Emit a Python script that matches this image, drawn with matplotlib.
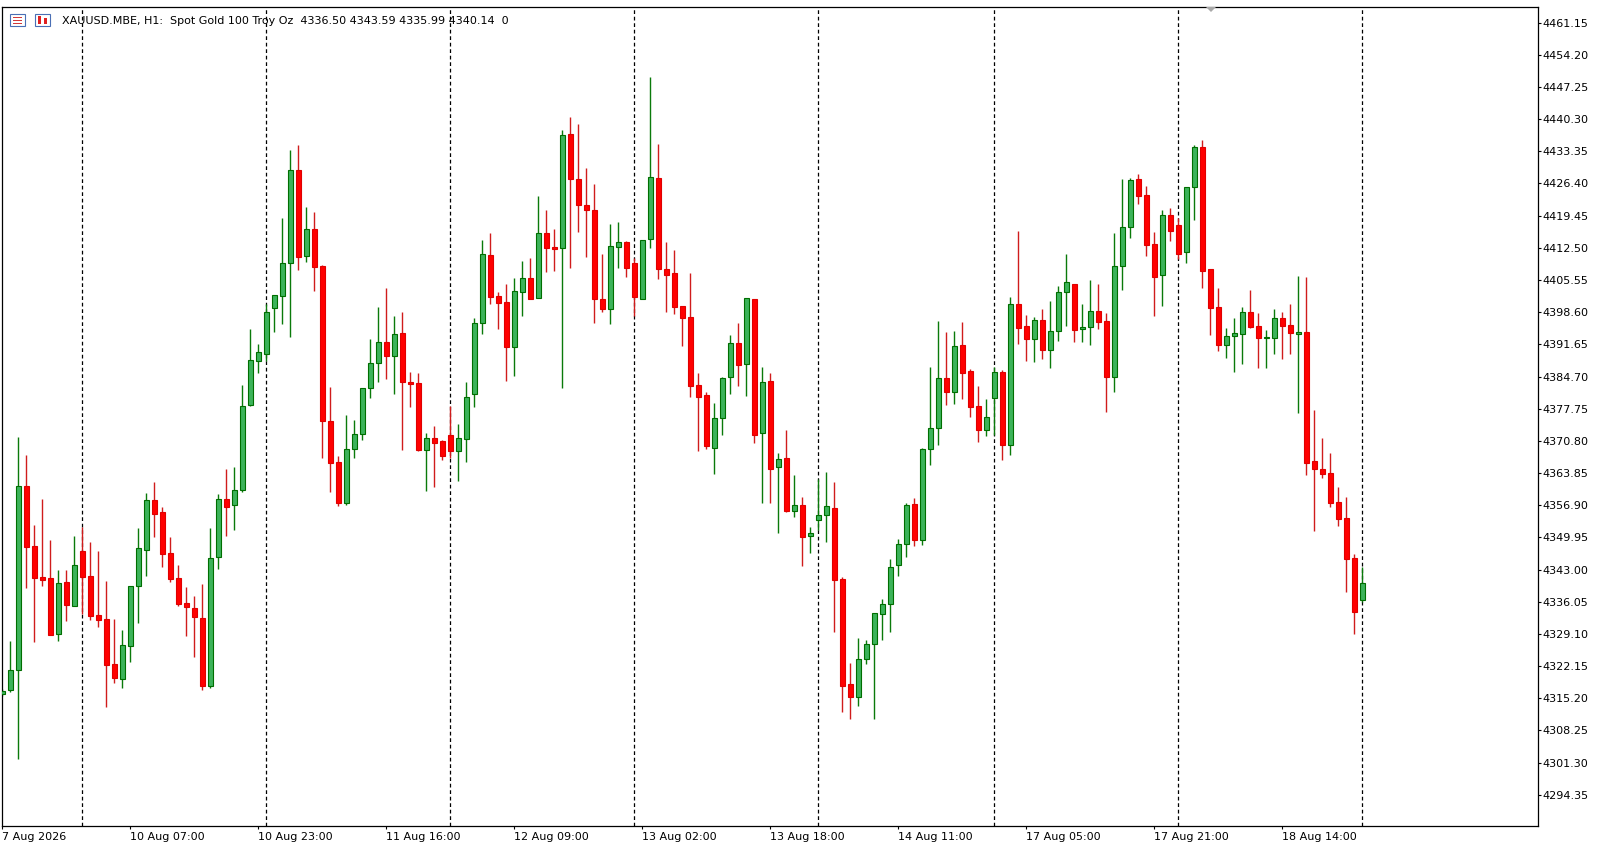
import matplotlib
matplotlib.use("Agg")
import matplotlib.pyplot as plt
from matplotlib.patches import Rectangle, Polygon

# XAUUSD H1 bars, 7 Aug 14:00 .. 18 Aug (one value per bar)
opens = [
    4316.08, 4316.94, 4321.26, 4361.00, 4348.00, 4341.41, 4341.13, 4329.03, 4340.26, 4335.21,
    4347.03, 4341.63, 4333.20, 4332.34, 4322.55, 4319.44, 4326.57, 4339.38, 4347.16, 4357.95,
    4355.34, 4346.55, 4341.15, 4335.75, 4334.67, 4332.51, 4317.78, 4345.62, 4358.19, 4356.87,
    4360.11, 4378.47, 4388.00, 4389.51, 4399.44, 4402.04, 4409.16, 4429.25, 4410.67, 4416.51,
    4408.51, 4375.04, 4366.18, 4357.39, 4368.99, 4372.23, 4382.16, 4387.56, 4392.10, 4389.07,
    4394.04, 4383.52, 4383.31, 4368.90, 4371.37, 4370.72, 4372.01, 4368.69, 4371.15, 4380.87,
    4396.20, 4410.89, 4402.10, 4400.74, 4391.02, 4403.03, 4405.92, 4401.60, 4415.64, 4412.68,
    4412.40, 4437.02, 4427.30, 4421.75, 4420.61, 4401.39, 4399.23, 4412.75, 4413.70, 4409.16,
    4401.39, 4414.35, 4427.52, 4407.87, 4407.00, 4399.88, 4397.50, 4382.81, 4380.65, 4369.34,
    4375.68, 4384.54, 4391.88, 4387.48, 4401.39, 4372.45, 4383.68, 4365.10, 4367.05, 4355.73,
    4356.90, 4350.20, 4353.65, 4354.74, 4356.25, 4340.91, 4318.23, 4315.56, 4323.63, 4326.88,
    4333.35, 4335.51, 4343.94, 4348.47, 4357.11, 4349.34, 4368.99, 4373.53, 4384.32, 4381.30,
    4391.45, 4385.84, 4378.28, 4373.22, 4380.13, 4385.62, 4369.98, 4400.31, 4395.56, 4392.88,
    4396.85, 4390.50, 4394.48, 4402.90, 4404.63, 4394.91, 4395.34, 4398.79, 4396.64, 4384.67,
    4408.51, 4416.94, 4427.37, 4423.85, 4413.33, 4406.57, 4419.53, 4417.37, 4411.54, 4425.71,
    4434.22, 4407.87, 4399.66, 4391.45, 4393.40, 4393.96, 4398.58, 4395.62, 4392.95, 4392.96,
    4397.28, 4395.77, 4393.83, 4394.26, 4366.40, 4364.67, 4363.81, 4357.61, 4354.15, 4345.45,
    4336.50,
]
highs = [
    4317.22, 4327.59, 4371.58, 4367.76, 4352.57, 4358.26, 4349.40, 4342.92, 4342.92, 4350.26,
    4352.21, 4348.97, 4347.03, 4340.55, 4332.34, 4329.96, 4339.50, 4352.01, 4359.51, 4361.82,
    4356.51, 4350.03, 4344.00, 4339.23, 4337.28, 4339.92, 4352.01, 4359.36, 4364.76, 4365.15,
    4382.88, 4394.99, 4391.73, 4400.31, 4402.25, 4418.95, 4433.63, 4434.71, 4421.32, 4420.24,
    4408.80, 4382.45, 4367.54, 4376.40, 4375.32, 4382.20, 4392.81, 4399.72, 4403.83, 4397.78,
    4398.64, 4385.69, 4385.47, 4372.45, 4374.02, 4370.93, 4378.34, 4374.45, 4383.52, 4397.28,
    4414.19, 4415.71, 4402.96, 4404.69, 4405.99, 4409.66, 4410.31, 4423.70, 4420.67, 4416.57,
    4437.95, 4440.76, 4439.25, 4429.75, 4426.29, 4411.17, 4417.65, 4418.08, 4413.98, 4410.24,
    4414.13, 4449.40, 4434.93, 4413.76, 4412.03, 4399.88, 4407.07, 4385.47, 4381.30, 4378.99,
    4384.61, 4393.68, 4396.27, 4401.60, 4401.39, 4386.77, 4385.40, 4368.13, 4373.16, 4363.44,
    4358.69, 4352.14, 4362.51, 4364.09, 4361.93, 4341.41, 4322.84, 4328.23, 4327.80, 4333.57,
    4336.66, 4345.23, 4349.62, 4357.39, 4358.41, 4369.21, 4386.70, 4396.70, 4394.32, 4394.54,
    4396.48, 4386.27, 4382.66, 4379.85, 4386.83, 4386.12, 4401.88, 4416.14, 4398.00, 4397.56,
    4399.29, 4401.02, 4404.19, 4411.17, 4404.63, 4400.37, 4405.55, 4404.69, 4398.36, 4415.71,
    4427.37, 4427.59, 4428.45, 4425.86, 4415.92, 4420.67, 4421.11, 4418.95, 4425.58, 4434.71,
    4435.79, 4407.87, 4403.83, 4395.19, 4397.35, 4399.72, 4403.40, 4398.36, 4394.76, 4399.29,
    4398.58, 4400.31, 4406.42, 4406.14, 4377.48, 4371.43, 4368.19, 4360.85, 4358.69, 4346.38,
    4343.59,
]
lows = [
    4315.71, 4316.64, 4302.10, 4339.10, 4327.44, 4339.53, 4328.95, 4327.65, 4331.91, 4335.21,
    4333.35, 4332.12, 4330.67, 4313.40, 4318.58, 4317.50, 4323.12, 4331.50, 4341.69, 4350.03,
    4343.61, 4340.37, 4335.21, 4328.73, 4324.02, 4317.00, 4317.44, 4343.22, 4350.18, 4351.65,
    4359.66, 4378.30, 4385.53, 4388.06, 4394.39, 4396.12, 4393.31, 4407.78, 4409.51, 4403.24,
    4367.18, 4359.83, 4356.74, 4356.96, 4367.18, 4370.93, 4380.13, 4383.59, 4384.24, 4381.00,
    4368.90, 4378.19, 4368.69, 4360.05, 4360.91, 4366.74, 4367.05, 4362.21, 4366.31, 4378.19,
    4393.96, 4400.44, 4395.04, 4383.81, 4384.89, 4397.85, 4401.39, 4401.60, 4407.35, 4407.56,
    4382.29, 4408.21, 4415.99, 4410.59, 4396.33, 4398.71, 4396.12, 4408.08, 4406.27, 4397.85,
    4401.39, 4412.53, 4405.84, 4398.71, 4398.28, 4391.37, 4380.35, 4368.69, 4369.12, 4363.72,
    4372.14, 4381.00, 4382.73, 4380.57, 4370.42, 4357.46, 4357.46, 4350.98, 4355.38, 4354.43,
    4343.85, 4346.66, 4351.56, 4349.03, 4329.60, 4312.32, 4310.81, 4313.61, 4322.69, 4310.81,
    4327.87, 4329.60, 4341.69, 4345.79, 4348.17, 4348.32, 4365.66, 4369.98, 4378.62, 4378.84,
    4379.92, 4376.03, 4370.63, 4371.93, 4372.08, 4366.74, 4367.82, 4391.73, 4388.13, 4387.85,
    4388.56, 4386.61, 4392.45, 4395.69, 4392.23, 4392.23, 4391.58, 4395.04, 4377.11, 4381.43,
    4403.46, 4414.69, 4422.03, 4410.80, 4397.85, 4399.94, 4413.98, 4410.09, 4409.29, 4418.58,
    4403.83, 4393.68, 4390.29, 4388.77, 4385.75, 4387.35, 4395.12, 4386.61, 4386.61, 4389.51,
    4388.43, 4389.64, 4376.89, 4363.44, 4351.34, 4362.86, 4356.59, 4352.49, 4338.23, 4329.10,
    4335.99,
]
closes = [
    4316.85, 4321.26, 4361.00, 4347.95, 4341.26, 4340.83, 4328.95, 4340.05, 4335.43, 4343.94,
    4341.47, 4333.05, 4332.19, 4322.47, 4319.66, 4326.66, 4339.40, 4347.63, 4357.95, 4355.10,
    4346.46, 4341.06, 4335.66, 4334.82, 4332.66, 4317.78, 4345.47, 4358.19, 4356.57, 4360.11,
    4378.26, 4388.19, 4389.94, 4398.58, 4402.25, 4409.16, 4429.25, 4410.59, 4416.51, 4408.43,
    4375.04, 4365.97, 4357.39, 4369.06, 4372.23, 4382.16, 4387.56, 4392.10, 4389.03, 4393.83,
    4383.46, 4383.16, 4368.90, 4371.37, 4370.42, 4367.61, 4368.69, 4371.37, 4380.22, 4396.20,
    4411.11, 4401.95, 4400.65, 4391.15, 4403.12, 4405.92, 4401.39, 4415.64, 4412.40, 4412.32,
    4436.81, 4427.30, 4421.69, 4420.61, 4401.39, 4399.23, 4412.83, 4413.70, 4408.08, 4401.82,
    4414.13, 4427.74, 4408.00, 4406.70, 4399.79, 4397.41, 4382.73, 4380.35, 4369.77, 4375.68,
    4384.32, 4391.88, 4387.26, 4401.60, 4372.14, 4383.46, 4364.80, 4366.83, 4355.73, 4356.90,
    4350.11, 4350.85, 4354.74, 4356.68, 4340.83, 4317.93, 4315.56, 4323.63, 4326.88, 4333.57,
    4335.51, 4343.50, 4348.47, 4356.90, 4349.34, 4368.99, 4373.53, 4384.32, 4381.30, 4391.24,
    4385.53, 4378.19, 4373.22, 4375.90, 4385.62, 4369.98, 4400.31, 4395.25, 4392.88, 4396.85,
    4390.50, 4394.48, 4402.90, 4405.06, 4394.82, 4395.34, 4398.79, 4396.55, 4384.67, 4408.51,
    4416.94, 4427.09, 4423.76, 4413.18, 4406.27, 4419.53, 4416.20, 4411.24, 4425.58, 4434.22,
    4407.56, 4399.57, 4391.58, 4393.40, 4394.04, 4398.58, 4395.47, 4393.09, 4393.10, 4397.28,
    4395.69, 4394.17, 4394.26, 4366.10, 4364.67, 4363.72, 4357.46, 4354.00, 4345.36, 4333.91,
    4340.14,
]

price_ticks = [4461.15, 4454.20, 4447.25, 4440.30, 4433.35, 4426.40, 4419.45, 4412.50,
               4405.55, 4398.60, 4391.65, 4384.70, 4377.75, 4370.80, 4363.85, 4356.90,
               4349.95, 4343.00, 4336.05, 4329.10, 4322.15, 4315.20, 4308.25, 4301.30,
               4294.35]
time_labels = ["7 Aug 2026", "10 Aug 07:00", "10 Aug 23:00", "11 Aug 16:00", "12 Aug 09:00",
               "13 Aug 02:00", "13 Aug 18:00", "14 Aug 11:00", "17 Aug 05:00", "17 Aug 21:00",
               "18 Aug 14:00"]
time_label_bars = [0, 16, 32, 48, 64, 80, 96, 112, 128, 144, 160]
day_start_bars = [10, 33, 56, 79, 102, 124, 147, 170]

header = "XAUUSD.MBE, H1:  Spot Gold 100 Troy Oz  4336.50 4343.59 4335.99 4340.14  0"

W, H = 1609, 850
fig = plt.figure(figsize=(W / 100, H / 100), dpi=100)
fig.patch.set_facecolor("white")

# plot frame in pixels: left 2.3, right 1537.7, top 7.2, bottom 826
left, right, top, bottom = 2.3, 1537.7, 7.2, 826.0
ax = fig.add_axes([left / W, 1 - bottom / H, (right - left) / W, (bottom - top) / H])
ax.set_facecolor("white")

n = len(opens)
xs = list(range(n))
up = [c >= o for o, c in zip(opens, closes)]

wick_cols = ["#0a7a0a" if u else "#d01c1c" for u in up]
body_fill = ["#3cb35a" if u else "#ff0000" for u in up]
body_edge = ["#006e00" if u else "#e00000" for u in up]

# period separators
for b in day_start_bars:
    ax.axvline(b, color="black", lw=0.9, dashes=(3, 2.2), zorder=1)

ax.vlines(xs, lows, highs, colors=wick_cols, linewidth=1.0, zorder=2)

bottoms = [min(o, c) for o, c in zip(opens, closes)]
heights = [max(abs(c - o), 0.25) for o, c in zip(opens, closes)]
ax.bar(xs, heights, bottom=bottoms, width=0.62, color=body_fill,
       edgecolor=body_edge, linewidth=0.8, zorder=3)

# axis scales
ax.set_xlim(0, (right - left) / 8.0)
ax.set_ylim(4287.62, 4464.47)

ax.yaxis.tick_right()
ax.set_yticks(price_ticks)
ax.set_yticklabels([f"{p:.2f}" for p in price_ticks])
ax.tick_params(axis="y", direction="out", length=2.5, width=0.8, pad=1.2,
               labelsize=8, colors="black")

ax.set_xticks(time_label_bars)
ax.set_xticklabels(time_labels, ha="left")
ax.tick_params(axis="x", direction="out", length=2.5, width=0.8, pad=1.5,
               labelsize=8, colors="black")

for s in ax.spines.values():
    s.set_color("black")
    s.set_linewidth(0.9)

# header line with the two small icons
fig.text(61.6 / W, 1 - 21 / H, header, fontsize=8, ha="left", va="center", color="black")

def px_rect(x0, y0, w, h, **kw):
    fig.patches.append(Rectangle((x0 / W, 1 - (y0 + h) / H), w / W, h / H,
                                 transform=fig.transFigure, **kw))

px_rect(10, 14, 15, 12, facecolor="white", edgecolor="#4a6fb5", linewidth=0.8)
for yy in (17, 20, 23):
    px_rect(13, yy, 9, 1, facecolor="#d23a3a", edgecolor="none")
px_rect(35, 14, 15, 12, facecolor="white", edgecolor="#4a6fb5", linewidth=0.8)
px_rect(38, 16, 3, 8, facecolor="#e02020", edgecolor="none")
px_rect(44, 18, 3, 6, facecolor="#e02020", edgecolor="none")

# chart shift marker at the top
tri = [(1206 / W, 1 - 7 / H), (1216 / W, 1 - 7 / H), (1211 / W, 1 - 12 / H)]
fig.patches.append(Polygon(tri, closed=True, transform=fig.transFigure,
                           facecolor="#a9a9a9", edgecolor="none"))

fig.savefig("out.png", dpi=100, facecolor="white")
